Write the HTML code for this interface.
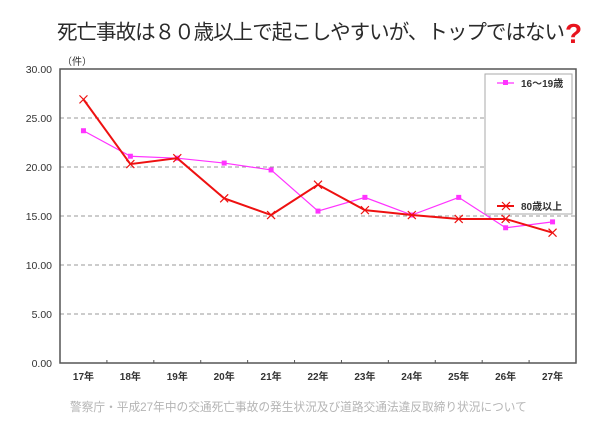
<!DOCTYPE html>
<html><head><meta charset="utf-8">
<style>
html,body{margin:0;padding:0;background:#fff;width:600px;height:426px;overflow:hidden}
svg{display:block}
text{font-family:"Liberation Sans","Noto Sans CJK JP",sans-serif}
</style></head>
<body>
<svg id="chart" width="600" height="426" viewBox="0 0 600 426">
<text x="57" y="39" font-size="20.5" fill="#2a2a2a" textLength="508">死亡事故は８０歳以上で起こしやすいが、トップではない</text>
<text x="565" y="43" font-size="28" font-weight="bold" fill="#e8141e">?</text>
<text x="62" y="65" font-size="10" fill="#333">（件）</text>
<g id="grid"></g>
<rect x="60" y="69" width="516" height="294" fill="none" stroke="#555" stroke-width="1.5"/>
<g id="xaxis"></g>
<g id="series"></g>
<g>
<rect x="485" y="74" width="87" height="140" fill="#fff" stroke="#aaa" stroke-width="1"/>
<g>
<line x1="497" y1="83" x2="514" y2="83" stroke="#ff33ff" stroke-width="1.2"/>
<rect x="503" y="80" width="5" height="5" fill="#ff33ff"/>
<text x="521" y="87" font-size="10" font-weight="bold" fill="#333">16～19歳</text>
</g>
<g>
<line x1="497" y1="206" x2="514" y2="206" stroke="#ee1111" stroke-width="2"/>
<path d="M502,202 l8,8 M510,202 l-8,8" stroke="#ee1111" stroke-width="1.2"/>
<text x="521" y="210" font-size="10" font-weight="bold" fill="#333">80歳以上</text>
</g>
</g>
<text x="70" y="411" font-size="11.7" fill="#b5b5b5">警察庁・平成27年中の交通死亡事故の発生状況及び道路交通法違反取締り状況について</text>
</svg>
<script>
const categories = ["17年","18年","19年","20年","21年","22年","23年","24年","25年","26年","27年"];
const teenValues = [23.7,21.1,20.9,20.4,19.7,15.5,16.9,15.1,16.9,13.8,14.4];
const elderValues = [26.9,20.3,20.9,16.8,15.1,18.2,15.6,15.1,14.7,14.7,13.3];
const yTicks = [0,5,10,15,20,25,30];
const yTickLabels = ["0.00","5.00","10.00","15.00","20.00","25.00","30.00"];

const NS = "http://www.w3.org/2000/svg";
const L = 60, R = 576, T = 69, B = 363, yMax = 30;
const step = (R - L) / categories.length;
const xPos = i => L + step * (i + 0.5);
const yPos = v => B - (v / yMax) * (B - T);
function mk(tag, attrs, parent){const e=document.createElementNS(NS,tag);for(const k in attrs)e.setAttribute(k,attrs[k]);parent.appendChild(e);return e;}

const grid = document.getElementById('grid');
yTicks.forEach((v,i)=>{
  const y = yPos(v);
  if (v>0 && v<yMax){
    const g = mk('line',{x1:L,x2:R,y1:y,y2:y,stroke:'#999','stroke-dasharray':'4,3','stroke-width':1},grid);
    
    
  }
  const t = mk('text',{x:52,y:y+4,'font-size':10.5,fill:'#333','text-anchor':'end'},grid);
  t.textContent = yTickLabels[i];
  
  
});

const xa = document.getElementById('xaxis');
categories.forEach((c,i)=>{
  if (i>0){
    const tk = mk('line',{x1:L+step*i,x2:L+step*i,y1:B,y2:B-3,stroke:'#555'},xa);
    
    
  }
  const t = mk('text',{x:xPos(i),y:B+17,'font-size':10,'font-weight':'bold',fill:'#333','text-anchor':'middle'},xa);
  t.textContent = c;
  
  
});

const sg = document.getElementById('series');
const teenLine = mk('polyline',{points:teenValues.map((v,i)=>xPos(i)+','+yPos(v)).join(' '),fill:'none',stroke:'#ff33ff','stroke-width':1.2},sg);


teenValues.forEach((v,i)=>{
  const m = mk('rect',{x:xPos(i)-2.5,y:yPos(v)-2.5,width:5,height:5,fill:'#ff33ff'},sg);
  
  
});
const elderLine = mk('polyline',{points:elderValues.map((v,i)=>xPos(i)+','+yPos(v)).join(' '),fill:'none',stroke:'#ee1111','stroke-width':2},sg);


elderValues.forEach((v,i)=>{
  const x=xPos(i), y=yPos(v);
  const m = mk('path',{d:`M${x-4},${y-4} L${x+4},${y+4} M${x+4},${y-4} L${x-4},${y+4}`,stroke:'#ee1111','stroke-width':1.2},sg);
  
  
});
</script>
</body></html>
